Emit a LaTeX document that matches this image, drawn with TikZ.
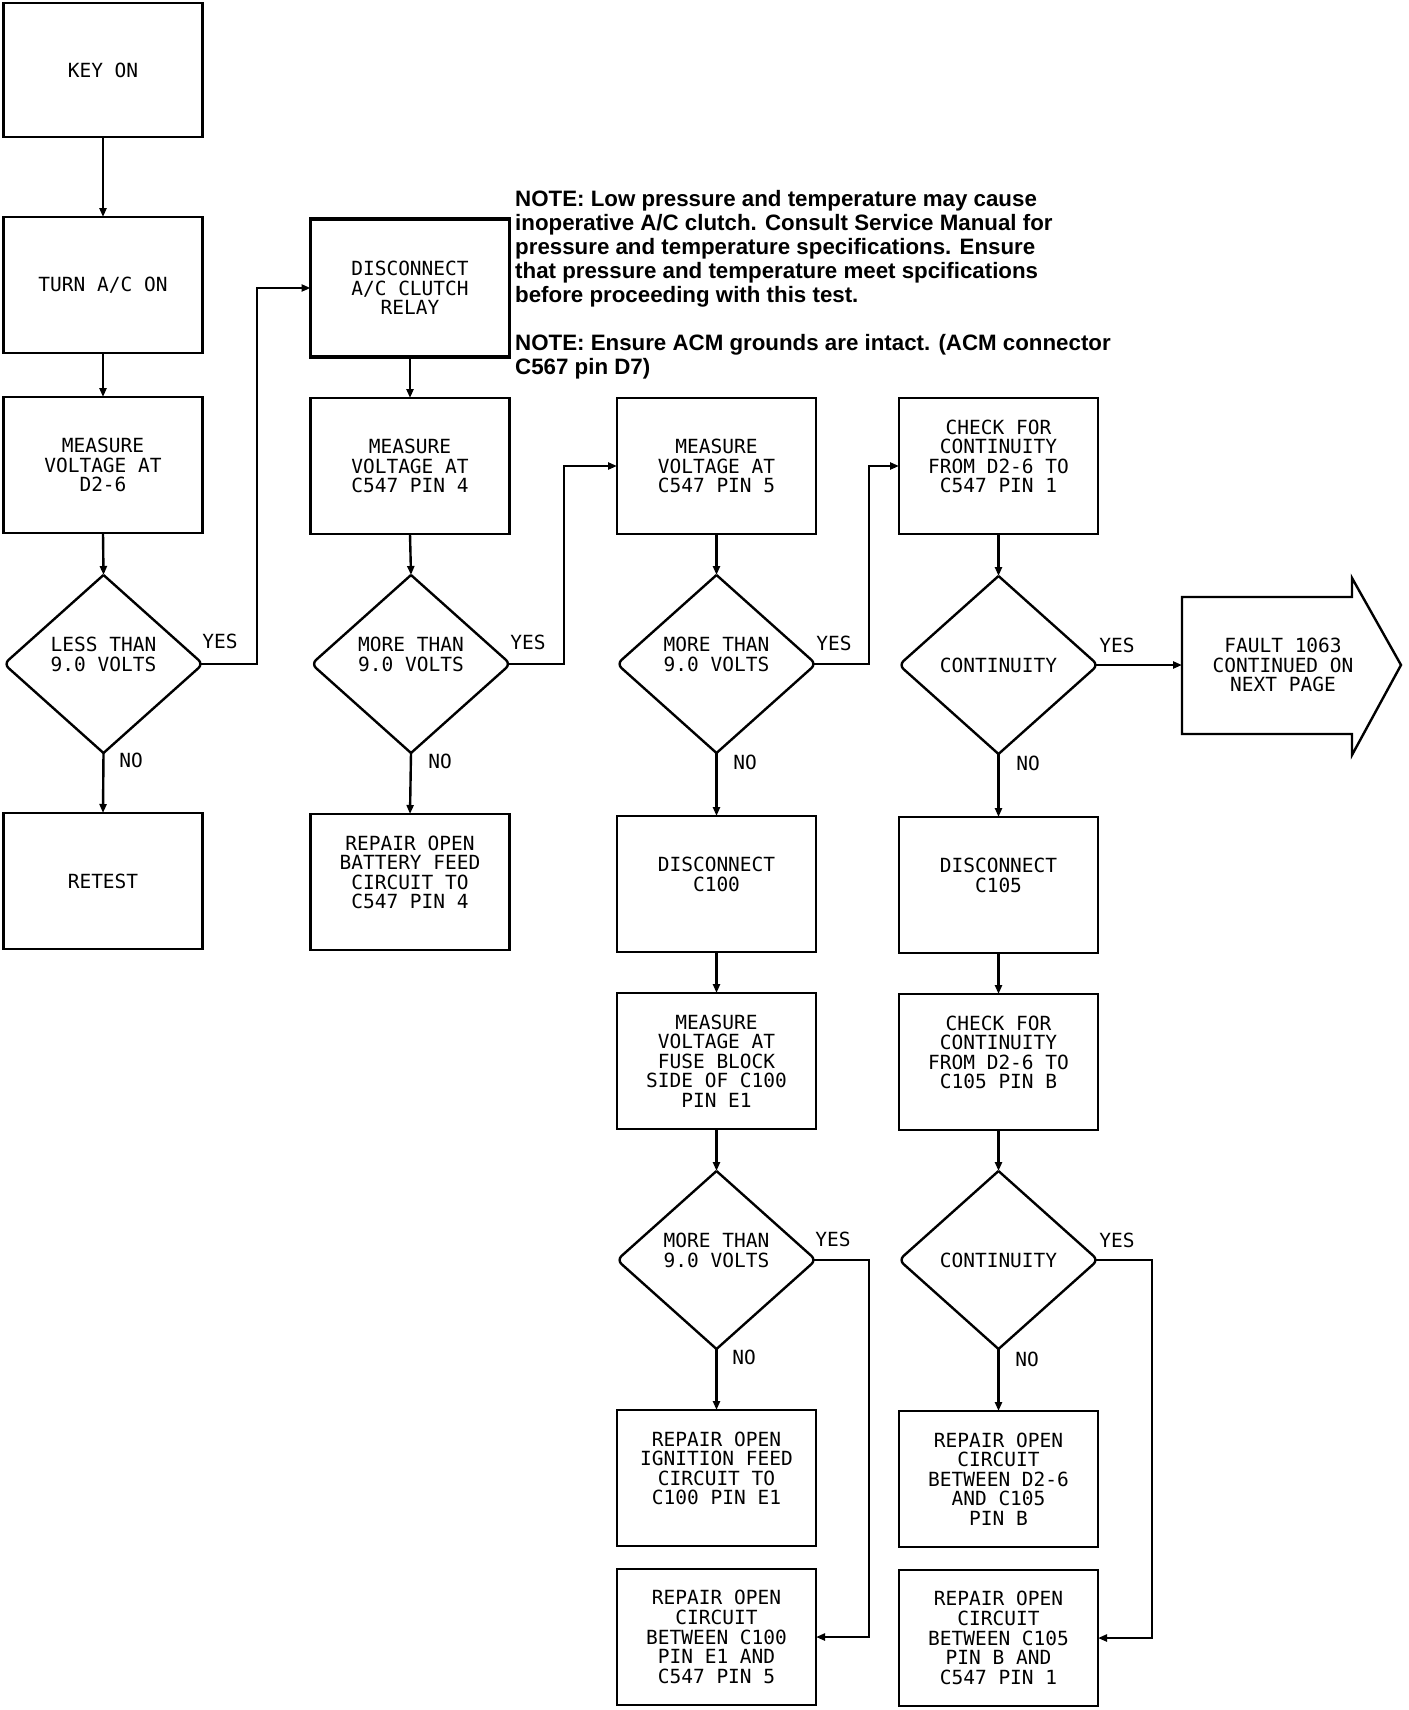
\documentclass[tikz,border=0pt]{standalone}
\usepackage{fontspec}
\usetikzlibrary{shapes.geometric,arrows.meta}
\newfontfamily\monofam{DejaVu Sans Mono}
\newfontfamily\notefam{Liberation Sans}
\newcommand\bxfont{\monofam\fontsize{19.5}{19.6}\selectfont}
\newcommand\ntfont{\notefam\bfseries\fontsize{22.3}{24}\selectfont}
\newcommand\xup{\\ \mbox{}}
\tikzset{
  box/.style={draw, line width=2.6pt, minimum width=199pt, minimum height=136pt,
    inner sep=0pt, outer sep=0pt, align=center, font=\bxfont},
  dia/.style={shape=diamond, minimum width=199pt, minimum height=178pt,
    inner sep=0pt, outer sep=0pt, align=center, font=\bxfont},
  dline/.style={line width=2.4pt, rounded corners=6pt},
  conn/.style={line width=2.4pt, -{Triangle[length=9pt,width=7pt]}},
  lbl/.style={font=\bxfont, inner sep=0pt},
}
\newcommand\drawdia[1]{%
  \draw[dline] (#1.north) -- (#1.east) -- (#1.south);
  \draw[dline] (#1.south) -- (#1.west) -- (#1.north);}
\begin{document}
\begin{tikzpicture}[x=1pt,y=-1pt]
\useasboundingbox[fill=white] (0,0) rectangle (1408,1710);

% column 1
\node[box, minimum height=134pt] (keyon) at (103,70) {KEY ON};
\node[box] (turn) at (103,285) {TURN A/C ON};
\node[box] (meas1) at (103,465) {MEASURE\\VOLTAGE AT\\D2-6};
\node[dia] (d1) at (103.5,664) {LESS THAN\\9.0 VOLTS\xup};
\node[box] (retest) at (103,881) {RETEST};

% column 2
\node[box, line width=3.6pt, minimum height=138pt] (disc) at (410,288) {DISCONNECT\\A/C CLUTCH\\RELAY};
\node[box] (meas2) at (410,466) {MEASURE\\VOLTAGE AT\\C547 PIN 4};
\node[dia] (d2) at (411,664) {MORE THAN\\9.0 VOLTS\xup};
\node[box] (repbat) at (410,882) {REPAIR OPEN\\BATTERY FEED\\CIRCUIT TO\\C547 PIN 4\xup};

% column 3
\node[box] (meas3) at (716.5,466) {MEASURE\\VOLTAGE AT\\C547 PIN 5};
\node[dia] (d3) at (716.5,664) {MORE THAN\\9.0 VOLTS\xup};
\node[box] (disc100) at (716.5,884) {DISCONNECT\\C100\xup};
\node[box] (measfuse) at (716.5,1061) {MEASURE\\VOLTAGE AT\\FUSE BLOCK\\SIDE OF C100\\PIN E1};
\node[dia] (d5) at (716.5,1260) {MORE THAN\\9.0 VOLTS\xup};
\node[box] (repign) at (716.5,1478) {REPAIR OPEN\\IGNITION FEED\\CIRCUIT TO\\C100 PIN E1\xup};
\node[box] (repc100) at (716.5,1637) {REPAIR OPEN\\CIRCUIT\\BETWEEN C100\\PIN E1 AND\\C547 PIN 5};

% column 4
\node[box] (check1) at (998.5,466) {CHECK FOR\\CONTINUITY\\FROM D2-6 TO\\C547 PIN 1\xup};
\node[dia] (d4) at (998.5,665) {CONTINUITY};
\node[box] (disc105) at (998.5,885) {DISCONNECT\\C105\xup};
\node[box] (check2) at (998.5,1062) {CHECK FOR\\CONTINUITY\\FROM D2-6 TO\\C105 PIN B\xup};
\node[dia] (d6) at (998.5,1260) {CONTINUITY};
\node[box] (repd26) at (998.5,1479) {REPAIR OPEN\\CIRCUIT\\BETWEEN D2-6\\AND C105\\PIN B};
\node[box] (repc105) at (998.5,1638) {REPAIR OPEN\\CIRCUIT\\BETWEEN C105\\PIN B AND\\C547 PIN 1};

\drawdia{d1}\drawdia{d2}\drawdia{d3}\drawdia{d4}\drawdia{d5}\drawdia{d6}

% continuation arrow
\node[font=\bxfont, align=center, inner sep=0pt] (fault) at (1283,665) {FAULT 1063\\CONTINUED ON\\NEXT PAGE};
\coordinate (faultin) at (1182,665);
\draw[line width=2.4pt, line join=miter] (1182,597) -- (1352,597) -- (1352,578) -- (1401,665)
  -- (1352,755) -- (1352,734) -- (1182,734) -- cycle;

% note (base anchor = baseline of the last line)
\node[font=\ntfont, align=left, anchor=base west, inner sep=0pt] (note) at (515,374)
  {NOTE: Low pressure and temperature may cause\\
   inoperative A/C clutch. Consult Service Manual for\\
   pressure and temperature specifications. Ensure\\
   that pressure and temperature meet spcifications\\
   before proceeding with this test.\\[24pt]
   NOTE: Ensure ACM grounds are intact. (ACM connector\\
   C567 pin D7)};

% junction columns
\coordinate (x1) at (257,0);
\coordinate (x2) at (564,0);
\coordinate (x3) at (869,0);
\coordinate (x4) at (1152,0);

% vertical connectors
\draw[conn] (keyon.south) -- (turn.north);
\draw[conn] (turn.south) -- (meas1.north);
\draw[conn] (meas1.south) -- (d1.north);
\draw[conn] (d1.south) -- (retest.north);
\draw[conn] (disc.south) -- (meas2.north);
\draw[conn] (meas2.south) -- (d2.north);
\draw[conn] (d2.south) -- (repbat.north);
\draw[conn, line width=3.4pt] (meas3.south) -- (d3.north);
\draw[conn, line width=3.4pt] (d3.south) -- (disc100.north);
\draw[conn, line width=3pt] (disc100.south) -- (measfuse.north);
\draw[conn, line width=3pt] (measfuse.south) -- (d5.north);
\draw[conn] (d5.south) -- (repign.north);
\draw[conn] (check1.south) -- (d4.north);
\draw[conn] (d4.south) -- (disc105.north);
\draw[conn] (disc105.south) -- (check2.north);
\draw[conn] (check2.south) -- (d6.north);
\draw[conn] (d6.south) -- (repd26.north);

% yes connectors
\draw[conn] ([xshift=-3pt]d1.east) -| (x1 |- disc.west) -- (disc.west);
\draw[conn] ([xshift=-3pt]d2.east) -| (x2 |- meas3.west) -- (meas3.west);
\draw[conn] ([xshift=-3pt]d3.east) -| (x3 |- check1.west) -- (check1.west);
\draw[conn] ([xshift=-3pt]d4.east) -- (faultin);
\draw[conn] ([xshift=-3pt]d5.east) -| (x3 |- repc100.east) -- (repc100.east);
\draw[conn] ([xshift=-3pt]d6.east) -| (x4 |- repc105.east) -- (repc105.east);

% labels
\node[lbl] (y1) at (220,641) {YES};
\node[lbl] (n1) at (131,760) {NO};
\node[lbl] (y2) at (528,642) {YES};
\node[lbl] (n2) at (440,761) {NO};
\node[lbl] (y3) at (834,643) {YES};
\node[lbl] (n3) at (745,762) {NO};
\node[lbl] (y4) at (1117,645) {YES};
\node[lbl] (n4) at (1028,763) {NO};
\node[lbl] (y5) at (833,1239) {YES};
\node[lbl] (n5) at (744,1357) {NO};
\node[lbl] (y6) at (1117,1240) {YES};
\node[lbl] (n6) at (1027,1359) {NO};
\end{tikzpicture}
\end{document}
